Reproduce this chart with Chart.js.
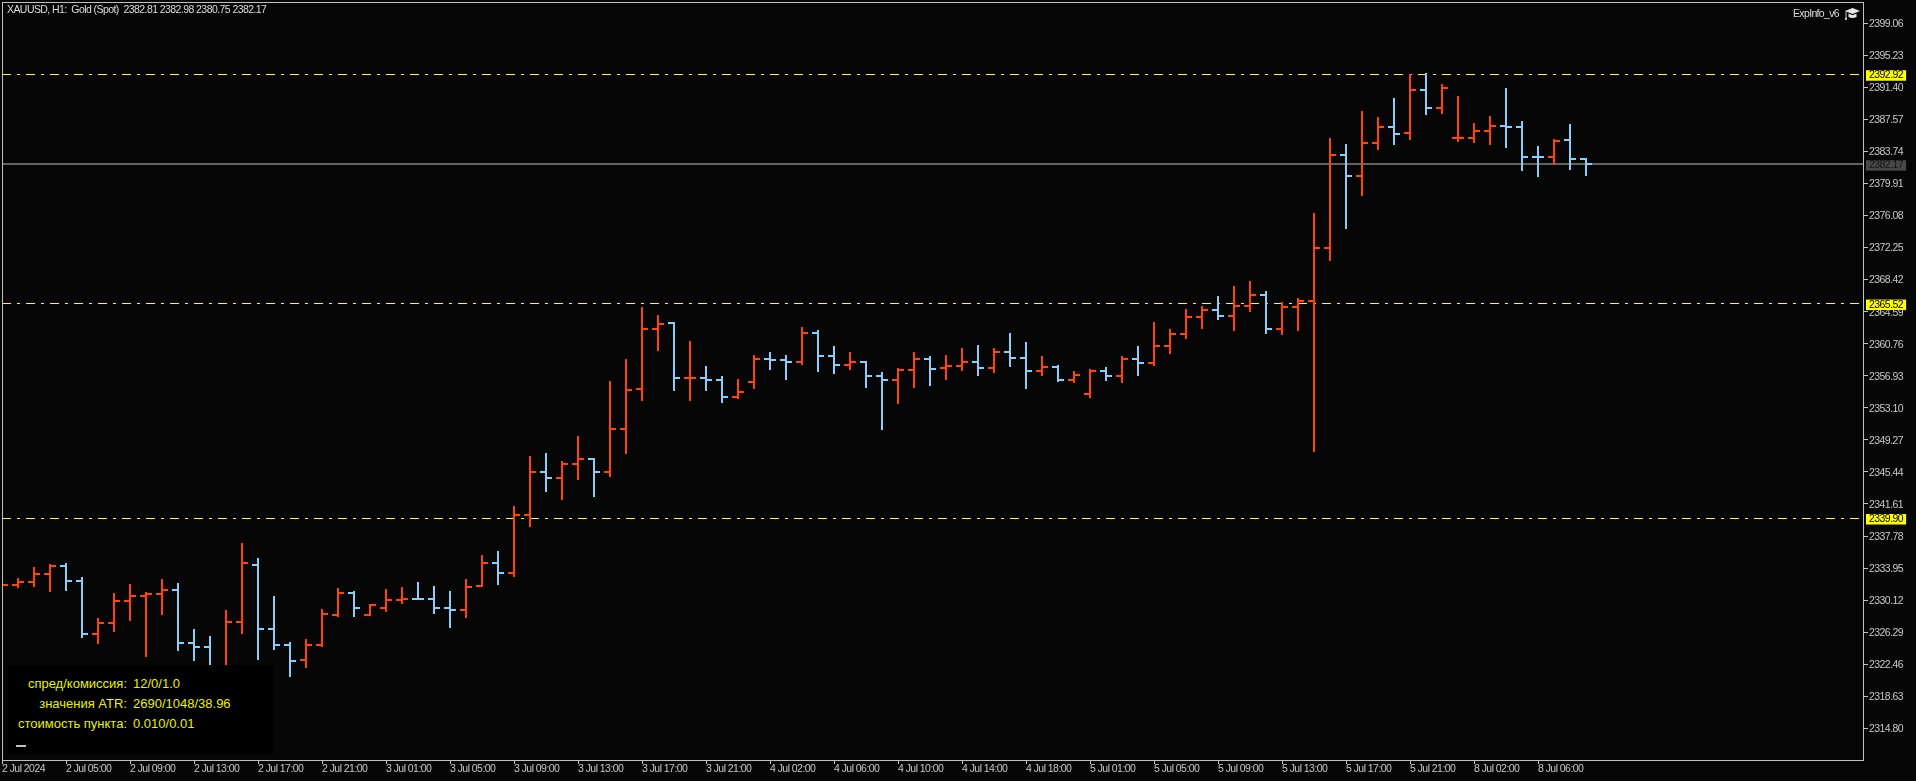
<!DOCTYPE html>
<html>
<head>
<meta charset="utf-8">
<title>XAUUSD H1</title>
<script src="https://cdn.jsdelivr.net/npm/chart.js@4"></script>
<style>
  html, body { margin: 0; padding: 0; background: #060606; overflow: hidden; }
  #wrap { position: relative; width: 1916px; height: 781px; }
  #myChart { position: absolute; left: 0; top: 0; }
  .tx { position: absolute; white-space: pre; font-family: "Liberation Sans", sans-serif; }
  #head { left: 7px; top: 3px; font-size: 10.5px; line-height: 13px; letter-spacing: -0.57px; color: #dcdcdc; }
  #expinfo { left: 1793px; top: 7px; font-size: 10.5px; line-height: 13px; letter-spacing: -0.65px; color: #dcdcdc; }
  #hat { position: absolute; left: 1845px; top: 8px; }
  #panel { position: absolute; left: 8px; top: 665px; width: 265px; height: 90px; background: #000; }
  #panel .tx { font-size: 13px; line-height: 20px; color: #e8f000; }
  #panel .lab { left: 0; width: 119px; text-align: right; }
  #panel .val { left: 125px; }
  #panel i { position: absolute; left: 8px; top: 80px; width: 10px; height: 2px; background: #c0c0c0; }
</style>
</head>
<body>
<div id="wrap">
  <canvas id="myChart" width="1916" height="781"></canvas>
  <div class="tx" id="head">XAUUSD, H1:  Gold (Spot)  2382.81 2382.98 2380.75 2382.17</div>
  <div class="tx" id="expinfo">ExpInfo_v6</div>
  <svg id="hat" width="15" height="12" viewBox="0 0 15 12">
    <path d="M7.5 0 L15 3 L7.5 6 L0 3 Z" fill="#e8e8e8"/>
    <path d="M3.5 5.6 L7.5 7.2 L11.5 5.6 L11.5 9 Q7.5 11 3.5 9 Z" fill="#e8e8e8"/>
    <rect x="0.5" y="3" width="1" height="7" fill="#c0c0c0"/>
    <rect x="0" y="9.5" width="2" height="2.5" fill="#c0c0c0"/>
  </svg>
  <div id="panel">
    <div class="tx lab" style="top:9px">спред/комиссия:</div><div class="tx val" style="top:9px">12/0/1.0</div>
    <div class="tx lab" style="top:29px">значения ATR:</div><div class="tx val" style="top:29px">2690/1048/38.96</div>
    <div class="tx lab" style="top:49px">стоимость пункта:</div><div class="tx val" style="top:49px">0.010/0.01</div>
    <i></i>
  </div>
</div>
<script>
const opens = [
  2331.93, 2331.93, 2332.29, 2333.24, 2334.20, 2332.41, 2326.07, 2327.39, 2330.02, 2330.61,
  2330.85, 2331.33, 2325.00, 2324.52, 2321.18, 2327.51, 2334.32, 2326.67, 2324.76, 2322.97,
  2324.76, 2328.34, 2330.97, 2328.34, 2329.18, 2330.14, 2330.26, 2330.26, 2329.18, 2328.94,
  2331.81, 2334.56, 2333.36, 2340.29, 2345.43, 2344.71, 2346.38, 2346.98, 2345.43, 2350.57,
  2355.34, 2362.51, 2363.23, 2356.66, 2356.66, 2356.42, 2354.39, 2356.18, 2358.93, 2358.81,
  2358.57, 2362.04, 2359.29, 2358.21, 2358.57, 2356.90, 2356.42, 2357.61, 2358.93, 2357.85,
  2358.09, 2358.57, 2357.85, 2359.77, 2359.05, 2357.50, 2357.97, 2356.42, 2354.75, 2357.50,
  2356.90, 2358.93, 2358.45, 2360.48, 2361.92, 2363.95, 2364.78, 2364.07, 2365.26, 2366.58,
  2362.51, 2365.14, 2365.86, 2372.19, 2383.30, 2380.79, 2384.74, 2386.65, 2385.93, 2391.07,
  2388.92, 2385.33, 2385.33, 2386.17, 2386.77, 2386.65, 2383.06, 2383.06, 2385.09, 2382.81
];
const highs = [
  2332.05, 2332.76, 2334.08, 2334.44, 2334.56, 2332.88, 2327.98, 2330.97, 2332.05, 2331.09,
  2332.64, 2332.17, 2326.67, 2325.83, 2328.94, 2336.95, 2335.15, 2330.61, 2325.12, 2325.48,
  2329.06, 2331.57, 2331.21, 2329.66, 2331.45, 2331.69, 2332.29, 2331.81, 2331.21, 2332.64,
  2335.51, 2335.99, 2341.37, 2347.34, 2347.70, 2346.74, 2349.73, 2347.10, 2356.30, 2358.93,
  2365.14, 2364.19, 2363.35, 2361.08, 2358.09, 2356.90, 2356.54, 2359.41, 2359.76, 2359.41,
  2362.75, 2362.39, 2360.48, 2359.76, 2358.69, 2357.38, 2357.85, 2359.76, 2359.29, 2359.41,
  2360.24, 2360.60, 2360.24, 2362.04, 2360.96, 2359.29, 2358.21, 2357.50, 2357.73, 2357.97,
  2359.29, 2360.48, 2363.35, 2362.51, 2364.90, 2365.26, 2366.46, 2367.65, 2368.25, 2367.05,
  2365.74, 2366.22, 2376.37, 2385.33, 2384.62, 2388.56, 2387.84, 2390.11, 2392.98, 2393.10,
  2391.78, 2390.35, 2387.12, 2387.96, 2391.31, 2387.36, 2384.38, 2385.21, 2387.01, 2382.98
];
const lows = [
  2331.81, 2331.57, 2331.69, 2331.09, 2331.21, 2325.60, 2324.88, 2326.31, 2327.63, 2323.33,
  2328.34, 2324.04, 2322.85, 2320.18, 2319.78, 2326.07, 2322.97, 2324.16, 2320.94, 2322.01,
  2324.52, 2328.10, 2328.10, 2328.22, 2328.70, 2329.66, 2330.14, 2328.46, 2326.79, 2327.98,
  2331.69, 2331.93, 2332.88, 2338.86, 2343.04, 2342.08, 2344.47, 2342.44, 2344.83, 2347.58,
  2353.91, 2359.88, 2355.11, 2353.91, 2355.11, 2353.67, 2354.15, 2355.34, 2357.61, 2356.42,
  2358.21, 2357.38, 2357.14, 2357.61, 2355.46, 2350.45, 2353.55, 2355.46, 2355.70, 2356.42,
  2357.50, 2356.90, 2357.26, 2357.97, 2355.35, 2356.90, 2356.18, 2356.06, 2354.27, 2356.30,
  2356.06, 2356.90, 2358.09, 2359.53, 2361.32, 2362.51, 2363.59, 2362.27, 2364.54, 2361.92,
  2361.80, 2362.27, 2347.82, 2370.64, 2374.46, 2378.40, 2383.90, 2384.50, 2385.09, 2388.08,
  2388.20, 2384.86, 2384.74, 2384.50, 2384.14, 2381.39, 2380.67, 2382.11, 2381.51, 2380.75
];
const closes = [
  2331.93, 2332.29, 2333.24, 2334.20, 2332.41, 2326.07, 2327.39, 2330.02, 2330.61, 2330.85,
  2331.33, 2325.00, 2324.52, 2321.18, 2327.51, 2334.56, 2326.67, 2324.76, 2322.85, 2324.76,
  2328.46, 2330.97, 2329.18, 2329.54, 2330.14, 2330.26, 2330.25, 2329.18, 2328.94, 2331.69,
  2334.56, 2333.36, 2340.29, 2345.43, 2344.71, 2346.38, 2346.98, 2345.43, 2350.57, 2355.23,
  2362.51, 2363.11, 2356.66, 2356.66, 2356.42, 2354.39, 2354.99, 2358.93, 2358.81, 2358.57,
  2362.04, 2359.29, 2358.21, 2358.57, 2356.90, 2356.42, 2357.61, 2358.93, 2357.73, 2358.09,
  2358.57, 2357.85, 2359.77, 2359.05, 2357.50, 2357.97, 2356.42, 2357.02, 2357.50, 2356.90,
  2358.93, 2358.45, 2360.48, 2361.92, 2363.95, 2364.78, 2364.07, 2365.26, 2366.58, 2362.51,
  2365.14, 2365.86, 2372.19, 2383.30, 2380.79, 2384.74, 2386.65, 2385.81, 2391.07, 2388.92,
  2391.31, 2385.33, 2386.17, 2386.77, 2386.65, 2383.06, 2383.05, 2384.97, 2382.82, 2382.17
];

const priceTicks = [
  2399.06, 2395.23, 2391.40, 2387.57, 2383.74, 2379.91, 2376.08, 2372.25, 2368.42, 2364.59, 2360.76, 2356.93,
  2353.10, 2349.27, 2345.44, 2341.61, 2337.78, 2333.95, 2330.12, 2326.29, 2322.46, 2318.63, 2314.80
];
const levels = [2392.92, 2365.52, 2339.90];
const lastPrice = 2382.17;

const timeLabels = [
  "2 Jul 2024", "2 Jul 05:00", "2 Jul 09:00", "2 Jul 13:00", "2 Jul 17:00", "2 Jul 21:00",
  "3 Jul 01:00", "3 Jul 05:00", "3 Jul 09:00", "3 Jul 13:00", "3 Jul 17:00", "3 Jul 21:00",
  "4 Jul 02:00", "4 Jul 06:00", "4 Jul 10:00", "4 Jul 14:00", "4 Jul 18:00",
  "5 Jul 01:00", "5 Jul 05:00", "5 Jul 09:00", "5 Jul 13:00", "5 Jul 17:00", "5 Jul 21:00",
  "8 Jul 02:00", "8 Jul 06:00"
];
const barsPerLabel = 4;
const lastX = 116.3125; // right edge of the plot, in bars

const upColor = "#ff4500";
const downColor = "#87cefa";
const isUp = opens.map((o, i) => closes[i] >= o);
const barColors = isUp.map((u) => (u ? upColor : downColor));

// open / close whiskers of the bars, used as point images
function whisker(color, right) {
  const c = document.createElement("canvas");
  c.width = 12;
  c.height = 2;
  const g = c.getContext("2d");
  g.fillStyle = color;
  g.fillRect(right ? 6 : 0, 0, 6, 2);
  return c;
}
const openUp = whisker(upColor, false), openDown = whisker(downColor, false);
const closeUp = whisker(upColor, true), closeDown = whisker(downColor, true);

const whiskerSet = (values, styles, name) => ({
  type: "line",
  label: name,
  data: values.map((v, i) => ({ x: i, y: v })),
  showLine: false,
  pointStyle: styles,
  pointRadius: 1,
  snap: "round",
  order: 1,
});

const levelSet = (v) => ({
  type: "line",
  label: "level " + v,
  data: [{ x: 0, y: v }, { x: lastX, y: v }],
  borderColor: "#ffff00",
  borderWidth: 1,
  borderDash: [9, 6, 3, 6],
  pointRadius: 0,
  snap: "floor",
  order: 3,
});

// keeps the thin MetaTrader-like marks on whole device pixels
const pixelSnap = {
  id: "pixelSnap",
  beforeUpdate(chart) {
    chart.ctx.letterSpacing = "-0.55px";
  },
  afterDatasetsUpdate(chart) {
    chart.data.datasets.forEach((ds, i) => {
      chart.getDatasetMeta(i).data.forEach((el) => {
        if (ds.snap === "floor") el.y = Math.floor(el.y) + 0.5;
        if (ds.snap === "round") el.y = Math.round(el.y);
        if (ds.snap === "bar") {
          el.y = Math.round(el.y);
          el.base = Math.round(el.base);
        }
      });
    });
  },
};

const frame = {
  id: "frame",
  afterDatasetsDraw(chart) {
    const { ctx, chartArea: a } = chart;
    ctx.save();
    ctx.strokeStyle = "#c0c0c0";
    ctx.lineWidth = 1;
    ctx.strokeRect(a.left + 0.5, a.top + 0.5, a.right - a.left, a.bottom - a.top);
    ctx.restore();
  },
};

const boxStyle = (value) => {
  if (levels.includes(value)) return { bg: "#ffff00", fg: "#000000" };
  if (value === lastPrice) return { bg: "#484848", fg: "#141414" };
  return null;
};

const axisFont = { family: "'Liberation Sans', sans-serif", size: 10.5, lineHeight: 1 };

const myChart = new Chart(document.getElementById("myChart").getContext("2d"), {
  type: "bar",
  data: {
    datasets: [
      {
        type: "bar",
        label: "high-low",
        data: lows.map((l, i) => ({ x: i, y: [l, highs[i]] })),
        backgroundColor: barColors,
        barThickness: 2,
        borderWidth: 0,
        inflateAmount: 0,
        snap: "bar",
        order: 2,
      },
      whiskerSet(opens, isUp.map((u) => (u ? openUp : openDown)), "open"),
      whiskerSet(closes, isUp.map((u) => (u ? closeUp : closeDown)), "close"),
      ...levels.map(levelSet),
      {
        type: "line",
        label: "last",
        data: [{ x: 0, y: lastPrice }, { x: lastX, y: lastPrice }],
        borderColor: "#626262",
        borderWidth: 2,
        pointRadius: 0,
        snap: "round",
        order: 4,
      },
    ],
  },
  plugins: [pixelSnap, frame],
  options: {
    responsive: false,
    animation: false,
    events: [],
    layout: { autoPadding: false, padding: { left: 2, top: 2, right: 0, bottom: 0 } },
    plugins: { legend: { display: false }, tooltip: { enabled: false } },
    scales: {
      x: {
        type: "linear",
        offset: false,
        min: 0,
        max: lastX,
        border: { display: false },
        grid: { offset: false, drawOnChartArea: false, drawTicks: true, tickLength: 4, tickColor: "#c0c0c0" },
        afterBuildTicks(scale) {
          scale.ticks = timeLabels.map((_, i) => ({ value: i * barsPerLabel }));
        },
        afterFit(scale) {
          scale.height = 21;
          scale.paddingLeft = 0;
          scale.paddingRight = 0;
        },
        ticks: {
          autoSkip: false,
          maxRotation: 0,
          align: "start",
          padding: 0,
          color: "#c8c8c8",
          font: axisFont,
          callback: (v, i) => timeLabels[i],
        },
      },
      y: {
        position: "right",
        min: 2311.02,
        max: 2401.58,
        border: { display: false },
        grid: {
          drawOnChartArea: false,
          drawTicks: true,
          tickLength: 5,
          tickColor: (c) => (c.tick && boxStyle(c.tick.value) ? "transparent" : "#c0c0c0"),
        },
        afterBuildTicks(scale) {
          scale.ticks = [...priceTicks, ...levels, lastPrice].map((value) => ({ value }));
        },
        afterFit(scale) {
          scale.width = 53;
          scale.paddingTop = 0;
          scale.paddingBottom = 0;
        },
        ticks: {
          autoSkip: false,
          padding: 1,
          labelOffset: 1,
          font: axisFont,
          color: (c) => (c.tick && boxStyle(c.tick.value) ? boxStyle(c.tick.value).fg : "#c8c8c8"),
          showLabelBackdrop: (c) => !!(c.tick && boxStyle(c.tick.value)),
          backdropColor: (c) => (c.tick && boxStyle(c.tick.value) ? boxStyle(c.tick.value).bg : "transparent"),
          backdropPadding: { x: 3, y: 0 },
          callback: (v) => v.toFixed(2),
        },
      },
    },
  },
});
</script>
</body>
</html>
